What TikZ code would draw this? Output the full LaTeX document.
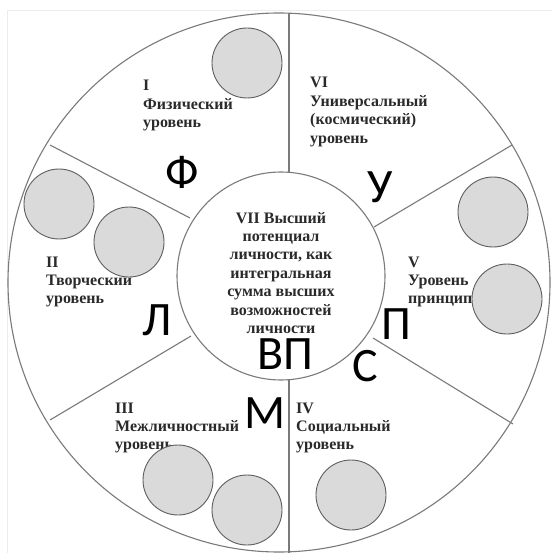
\documentclass[tikz,border=0pt]{standalone}
\usepackage{fontspec}
\setmainfont{Liberation Serif}
\newfontfamily\bigsans{Carlito}
\definecolor{linegray}{HTML}{7A7A7A}
\definecolor{ballfill}{HTML}{DADADA}
\definecolor{ballline}{HTML}{5E5E5E}
\definecolor{txtgray}{HTML}{2A2A2A}
\definecolor{pageedge}{HTML}{EDEDED}
\begin{document}
\begin{tikzpicture}[x=1pt,y=-1pt,
  divider/.style={draw=linegray,line width=1.1pt},
  ring/.style={draw=linegray,line width=1.1pt},
  ball/.style={circle,draw=ballline,fill=ballfill,line width=0.9pt,minimum size=70pt,inner sep=0pt},
  leveltext/.style={font=\fontsize{16}{18.4}\selectfont\bfseries,text=txtgray,align=left,anchor=base west,inner sep=0pt},
  centertext/.style={font=\fontsize{16}{18.4}\selectfont\bfseries,text=txtgray,align=center,anchor=base,inner sep=0pt},
  bigletter/.style={font=\bigsans\fontsize{48}{48}\selectfont,text=black,inner sep=0pt,anchor=center}]
\useasboundingbox (0,0) rectangle (552,553);
\fill[white] (0,0) rectangle (552,553);
% faint page edges
\draw[pageedge,line width=0.8pt] (7,10) -- (552,10);
\draw[pageedge,line width=0.8pt] (7,10) -- (7,553);
% outer ring and inner circle
\draw[ring] (279,282.5) ellipse [x radius=271, y radius=269.5];
\draw[ring] (281,276) circle [radius=104];
% dividers
\draw[divider] (289,13) -- (289,172);
\draw[divider] (289,380) -- (289,553);
\draw[divider] (50,145) -- (190,218);
\draw[divider] (512,145) -- (374,227);
\draw[divider] (50,420) -- (191,336);
\draw[divider] (373,338) -- (513,424);
% level texts (anchor = baseline of last line)
\node[leveltext] (t1) at (143,127.8) {I\\Физический\\уровень};
\node[leveltext] (t6) at (310,143.2) {VI\\Универсальный\\(космический)\\уровень};
\node[leveltext] (t2) at (46,303.8) {II\\Творческий\\уровень};
\node[leveltext] (t5) at (408,303.8) {V\\Уровень\\принципов};
\node[leveltext] (t3) at (115,449.8) {III\\Межличностный\\уровень};
\node[leveltext] (t4) at (296,449.8) {IV\\Социальный\\уровень};
\node[centertext] (t7) at (281,333.4) {VII Высший\\потенциал\\личности, как\\интегральная\\сумма высших\\возможностей\\личности};
% gray balls
\node[ball] (b1) at (247,63) {};
\node[ball] (b2) at (59,204) {};
\node[ball] (b3) at (129,242) {};
\node[ball] (b4) at (493,212) {};
\node[ball] (b5) at (507,299) {};
\node[ball] (b6) at (178,480) {};
\node[ball] (b7) at (247,510) {};
\node[ball] (b8) at (351,495) {};
% big letters
\node[bigletter] (lF) at (182,172) {Ф};
\node[bigletter] (lU) at (380,187) {У};
\node[bigletter] (lL) at (157,320) {Л};
\node[bigletter] (lP) at (396,324) {П};
\node[bigletter] (lS) at (365,366) {С};
\node[bigletter] (lVP) at (285,354) {ВП};
\node[bigletter] (lM) at (265,413) {М};
\end{tikzpicture}
\end{document}
